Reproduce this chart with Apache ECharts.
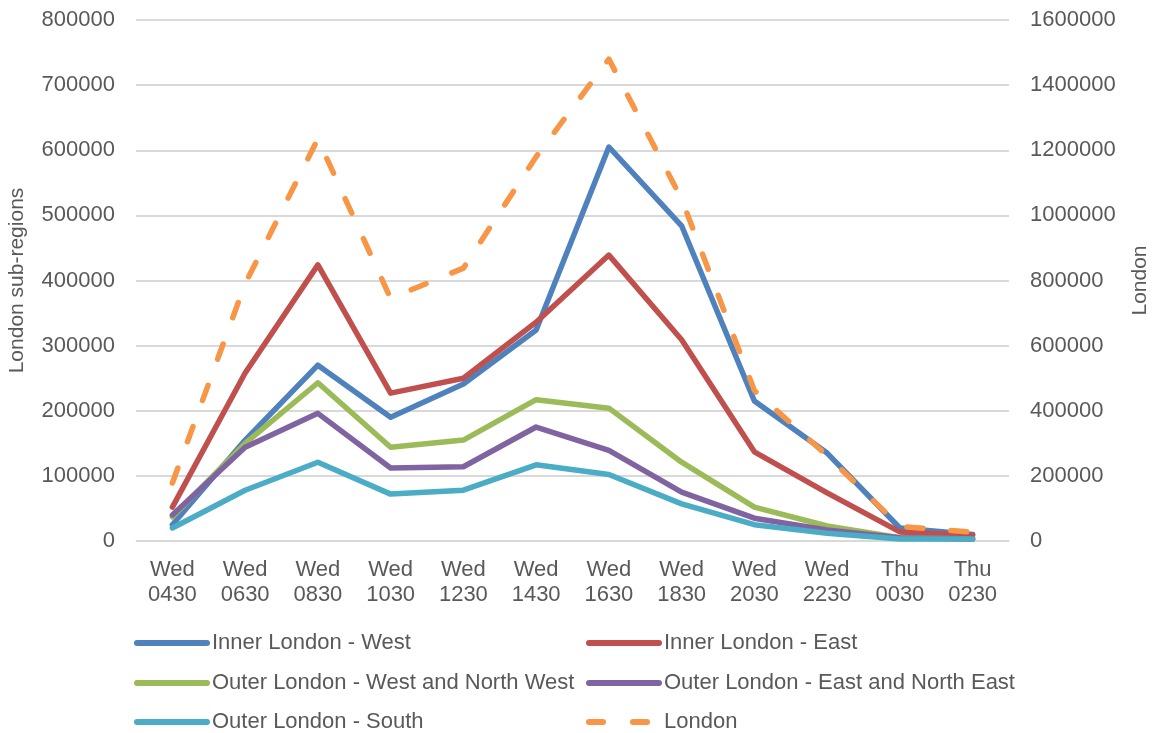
<!DOCTYPE html>
<html>
<head>
<meta charset="utf-8">
<script src="https://cdn.jsdelivr.net/npm/echarts@6/dist/echarts.min.js"></script>
<style>
  html, body { margin: 0; padding: 0; background: #fff; }
  #main { width: 1155px; height: 733px; }
</style>
</head>
<body>
<div id="main"></div>
<script>
// time slots
var times = ['Wed\n0430', 'Wed\n0630', 'Wed\n0830', 'Wed\n1030', 'Wed\n1230', 'Wed\n1430',
             'Wed\n1630', 'Wed\n1830', 'Wed\n2030', 'Wed\n2230', 'Thu\n0030', 'Thu\n0230'];

var innerWest = [25000, 155000, 270000, 190000, 241000, 324000, 605000, 484000, 215000, 135000, 20000, 10000];
var innerEast = [52000, 258000, 424000, 227000, 250000, 336000, 439000, 309000, 137000, 74000, 14000, 9000];
var outerWestNW = [37000, 150000, 243000, 144000, 155000, 217000, 204000, 121000, 52000, 23000, 5000, 3000];
var outerEastNE = [40000, 144000, 196000, 112000, 114000, 175000, 139000, 75000, 35000, 17000, 5000, 3000];
var outerSouth = [20000, 78000, 121000, 72000, 78000, 117000, 102000, 57000, 25000, 12000, 3000, 3000];
var london = [178000, 790000, 1235000, 745000, 838000, 1180000, 1480000, 1050000, 462000, 262000, 45000, 27000];

var txt = '#595959';
var font = 'Liberation Sans, Arial, sans-serif';

var chart = echarts.init(document.getElementById('main'), null, { renderer: 'canvas' });

function line(name, data, color, yIdx, dashed) {
  return {
    name: name,
    type: 'line',
    yAxisIndex: yIdx,
    data: data,
    symbol: 'none',
    lineStyle: {
      color: color,
      width: 5.5,
      type: dashed ? [16, 28] : 'solid',
      cap: 'round',
      join: 'round'
    },
    itemStyle: { color: color },
    z: dashed ? 5 : 2
  };
}

var legendText = { color: txt, fontSize: 22, fontFamily: font };

// one legend per entry so the two columns line up like the original
function legendItem(left, top, name) {
  return {
    left: left, top: top,
    padding: 0,
    itemWidth: 70, itemHeight: 10, itemGap: 0,
    textStyle: legendText,
    itemStyle: { opacity: 0 },
    lineStyle: { width: 6, cap: 'round', type: name === 'London' ? [14, 30] : 'solid' },
    data: [name]
  };
}

var option = {
  animation: false,
  grid: { left: 136, right: 146, top: 20, bottom: 192, containLabel: false, outerBoundsMode: 'none' },
  legend: [
    legendItem(134, 632, 'Inner London - West'),
    legendItem(586, 632, 'Inner London - East'),
    legendItem(134, 672, 'Outer London - West and North West'),
    legendItem(586, 672, 'Outer London - East and North East'),
    legendItem(134, 711, 'Outer London - South'),
    legendItem(586, 711, 'London')
  ],
  xAxis: {
    type: 'category',
    data: times,
    boundaryGap: true,
    axisLine: { lineStyle: { color: '#d9d9d9', width: 1 } },
    axisTick: { show: false },
    axisLabel: { color: txt, fontSize: 22, fontFamily: font, lineHeight: 25, margin: 16 }
  },
  yAxis: [{
    type: 'value',
    min: 0, max: 800000, interval: 100000,
    name: 'London sub-regions',
    nameLocation: 'middle',
    nameGap: 108,
    nameTextStyle: { color: txt, fontSize: 21, fontFamily: font },
    axisLine: { show: false },
    axisTick: { show: false },
    axisLabel: { color: txt, fontSize: 22, fontFamily: font, margin: 21, formatter: function (v) { return String(v); } },
    splitLine: { lineStyle: { color: '#d9d9d9', width: 2 } }
  }, {
    type: 'value',
    min: 0, max: 1600000, interval: 200000,
    name: 'London',
    nameLocation: 'middle',
    nameGap: 121,
    nameTextStyle: { color: txt, fontSize: 21, fontFamily: font },
    axisLine: { show: false },
    axisTick: { show: false },
    axisLabel: { color: txt, fontSize: 22, fontFamily: font, margin: 21, formatter: function (v) { return String(v); } },
    splitLine: { show: false }
  }],
  series: [
    line('Inner London - West', innerWest, '#4F81BD', 0),
    line('Inner London - East', innerEast, '#C0504D', 0),
    line('Outer London - West and North West', outerWestNW, '#9BBB59', 0),
    line('Outer London - East and North East', outerEastNE, '#8064A2', 0),
    line('Outer London - South', outerSouth, '#4BACC6', 0),
    line('London', london, '#F79646', 1, true)
  ]
};

chart.setOption(option);
</script>
</body>
</html>
